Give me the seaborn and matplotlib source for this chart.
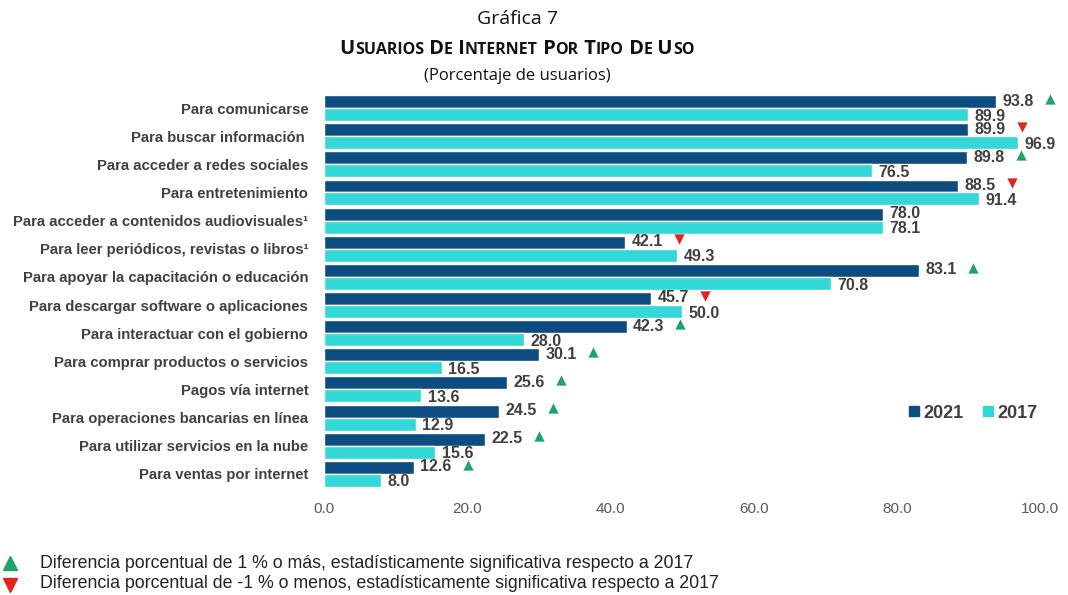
import matplotlib
matplotlib.use("Agg")
import matplotlib.pyplot as plt
from matplotlib.lines import Line2D
import seaborn as sns
import pandas as pd

categorias = [
    "Para comunicarse",
    "Para buscar información ",
    "Para acceder a redes sociales",
    "Para entretenimiento",
    "Para acceder a contenidos audiovisuales¹",
    "Para leer periódicos, revistas o libros¹",
    "Para apoyar la capacitación o educación",
    "Para descargar software o aplicaciones",
    "Para interactuar con el gobierno",
    "Para comprar productos o servicios",
    "Pagos vía internet",
    "Para operaciones bancarias en línea",
    "Para utilizar servicios en la nube",
    "Para ventas por internet",
]
v2021 = [93.8, 89.9, 89.8, 88.5, 78.0, 42.1, 83.1, 45.7, 42.3, 30.1, 25.6, 24.5, 22.5, 12.6]
v2017 = [89.9, 96.9, 76.5, 91.4, 78.1, 49.3, 70.8, 50.0, 28.0, 16.5, 13.6, 12.9, 15.6, 8.0]
signif = ["up", "down", "up", "down", "", "down", "up", "down", "up", "up", "up", "up", "up", "up"]
xticks = [0, 20, 40, 60, 80, 100]
titulo_palabras = ["USUARIOS", "DE", "INTERNET", "POR", "TIPO", "DE", "USO"]

C21 = "#0d4c80"
C17 = "#33d8d8"
GREEN = "#1fa366"
RED = "#e3231c"
TXT = "#404040"

sns.set_theme(style="white")
plt.rcParams["font.family"] = ["Liberation Sans", "DejaVu Sans"]

df = pd.DataFrame({
    "cat": categorias * 2,
    "val": v2021 + v2017,
    "year": ["2021"] * len(categorias) + ["2017"] * len(categorias),
})

fig = plt.figure(figsize=(10.68, 5.95), dpi=100)
ax = fig.add_axes([0.303, 0.180, 0.671, 0.662])
sns.barplot(data=df, y="cat", x="val", hue="year", orient="h",
            palette={"2021": C21, "2017": C17}, width=0.92,
            saturation=1, ax=ax, legend=False)

ax.set_xlim(0, 100)
ax.set_ylim(len(categorias) - 0.5, -0.5)
ax.set_xticks(xticks)
ax.set_xticklabels([f"{t:.1f}" for t in xticks], fontsize=11, color="#595959")
ax.set_xlabel("")
ax.set_ylabel("")
ax.tick_params(axis="y", labelsize=10.75, colors=TXT, length=0, pad=11)
ax.tick_params(axis="x", length=0, pad=10)
for lab in ax.get_yticklabels():
    lab.set_fontweight("bold")
for s in ax.spines.values():
    s.set_visible(False)

c21, c17 = ax.containers[0], ax.containers[1]
for bar, v in zip(c21, v2021):
    yc = bar.get_y() + bar.get_height() / 2
    ax.text(v + 0.9, yc - 0.02, f"{v:.1f}", va="center", ha="left", fontsize=11.5,
            fontweight="bold", color=TXT)
for bar, v in zip(c17, v2017):
    yc = bar.get_y() + bar.get_height() / 2
    ax.text(v + 0.9, yc + 0.06, f"{v:.1f}", va="center", ha="left", fontsize=11.5,
            fontweight="bold", color=TXT)

for bar, v, s in zip(c21, v2021, signif):
    if not s:
        continue
    yc = bar.get_y() + bar.get_height() / 2
    ax.scatter([v + 7.5], [yc - 0.1], marker="^" if s == "up" else "v",
               color=GREEN if s == "up" else RED, s=55, zorder=5, clip_on=False,
               linewidths=0)

handles = [Line2D([], [], marker="s", ls="", color=C21, markersize=7),
           Line2D([], [], marker="s", ls="", color=C17, markersize=7)]
leg = ax.legend(handles, ["2021", "2017"], loc="center", bbox_to_anchor=(0.905, 0.19),
                ncol=2, frameon=False, handletextpad=0.1, columnspacing=1.0,
                handlelength=0.8, prop={"weight": "bold", "size": 13})
for t in leg.get_texts():
    t.set_color(TXT)

fig.text(0.485, 0.968, "Gráfica 7", ha="center", va="center", fontsize=14,
         family=["Open Sans", "DejaVu Sans"], color="#111111")
fig.text(0.484, 0.873, "(Porcentaje de usuarios)", ha="center", va="center", fontsize=12,
         family=["Open Sans", "DejaVu Sans"], color="#111111")

# small-caps subtitle
renderer = fig.canvas.get_renderer()
pieces = []
for i, w in enumerate(titulo_palabras):
    first = (" " if i > 0 else "") + w[0]
    pieces.append((first, 14.5))
    if len(w) > 1:
        pieces.append((w[1:], 11.5))
objs = []
widths = []
for txt, sz in pieces:
    t = fig.text(0, 1 - 47 / 595, txt, ha="left", va="baseline", fontsize=sz,
                 fontweight="bold", family=["Open Sans", "DejaVu Sans"], color="#111111")
    bb = t.get_window_extent(renderer)
    objs.append(t)
    widths.append(bb.width)
total = sum(widths)
x0 = 517 - total / 2
ybase = 1 - 54 / 595
for t, wdt in zip(objs, widths):
    t.set_position((x0 / 1068, ybase))
    x0 += wdt

fig.lines.append(Line2D([0.0095], [1 - 563 / 595], marker="^", color=GREEN, markersize=10,
                        transform=fig.transFigure, ls=""))
fig.lines.append(Line2D([0.0095], [1 - 585 / 595], marker="v", color=RED, markersize=10,
                        transform=fig.transFigure, ls=""))
fig.text(0.037, 1 - 563 / 595, "Diferencia porcentual de 1 % o más, estadísticamente significativa respecto a 2017",
         ha="left", va="center", fontsize=12.8, color="#222222")
fig.text(0.037, 1 - 583 / 595, "Diferencia porcentual de -1 % o menos, estadísticamente significativa respecto a 2017",
         ha="left", va="center", fontsize=12.8, color="#222222")

fig.savefig("out.png", dpi=100)
